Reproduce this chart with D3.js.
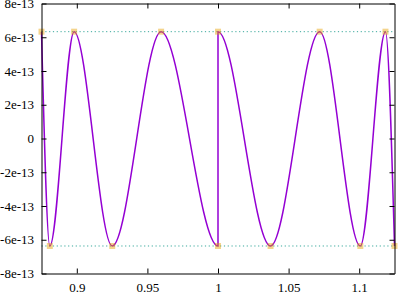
<!DOCTYPE html>
<html>
<head>
<meta charset="utf-8">
<script src="https://cdn.jsdelivr.net/npm/d3@7"></script>
<style>
  body { margin: 0; background: #fff; }
  svg text { font-family: "Liberation Serif", "DejaVu Serif", serif; font-size: 13px; }
</style>
</head>
<body>
<svg width="398" height="300"></svg>
<script>
// tick values / labels
const xTicks = [0.9, 0.95, 1, 1.05, 1.1];
const xTickLabels = ["0.9", "0.95", "1", "1.05", "1.1"];
const yTicks = [-8e-13, -6e-13, -4e-13, -2e-13, 0, 2e-13, 4e-13, 6e-13, 8e-13];
const yTickLabels = ["-8e-13", "-6e-13", "-4e-13", "-2e-13", "0", "2e-13", "4e-13", "6e-13", "8e-13"];

// error curve, read at its extrema (the jump at x = 1 has both ends)
const extremaX = [0.875, 0.8809, 0.8981, 0.9251, 0.9597, 1, 1, 1.0372, 1.0720, 1.1008, 1.1186, 1.125];
const extremaY = [6.33e-13, -6.37e-13, 6.33e-13, -6.37e-13, 6.33e-13, -6.37e-13,
                  6.33e-13, -6.37e-13, 6.33e-13, -6.37e-13, 6.33e-13, -6.37e-13];

// the two dotted bound lines
const boundLevels = [6.33e-13, -6.37e-13];

const svg = d3.select("svg");
const width = +svg.attr("width");
const height = +svg.attr("height");

const mLeft = 41.5, mRight = 394.5, mTop = 3.5, mBottom = 273.5;

const x = d3.scaleLinear().domain([0.875, 1.125]).range([mLeft, mRight]);
const y = d3.scaleLinear().domain([-8e-13, 8e-13]).range([mBottom, mTop]);

svg.append("rect").attr("width", width).attr("height", height).attr("fill", "#fff");

// bound lines
svg.selectAll("line.bound")
  .data(boundLevels)
  .enter().append("line")
    .attr("class", "bound")
    .attr("x1", mLeft)
    .attr("x2", mRight)
    .attr("y1", d => y(d))
    .attr("y2", d => y(d))
    .attr("stroke", "#3aa99c")
    .attr("stroke-width", 1)
    .attr("stroke-dasharray", "1.2,2.6");

const pts = extremaX.map((d, i) => ({ x: d, y: extremaY[i] }));

const line = d3.line()
  .x(d => x(d.x))
  .y(d => y(d.y))
  .curve(d3.curveMonotoneX);

svg.append("path")
  .datum(pts)
  .attr("d", line)
  .attr("fill", "none")
  .attr("stroke", "#9400d3")
  .attr("stroke-width", 1.5);

svg.selectAll("rect.pt")
  .data(pts)
  .enter().append("rect")
    .attr("class", "pt")
    .attr("x", d => x(d.x) - 3)
    .attr("y", d => y(d.y) - 3)
    .attr("width", 6)
    .attr("height", 6)
    .attr("fill", "#e69f00")
    .attr("fill-opacity", 0.45);

// axes: labelled bottom/left, mirror ticks top/right
const styleAxis = g => {
  g.attr("font-family", null).attr("font-size", null);
  g.selectAll("path.domain").attr("stroke", "#000");
  g.selectAll(".tick line").attr("stroke", "#000");
  g.selectAll(".tick text").attr("fill", "#000");
};

svg.append("g")
  .attr("transform", `translate(0,${mBottom})`)
  .call(d3.axisBottom(x).tickValues(xTicks).tickSizeInner(-5).tickSizeOuter(0)
    .tickPadding(9).tickFormat((d, i) => xTickLabels[i]))
  .call(styleAxis);

svg.append("g")
  .attr("transform", `translate(0,${mTop})`)
  .call(d3.axisTop(x).tickValues(xTicks).tickSizeInner(-5).tickSizeOuter(0).tickFormat(""))
  .call(styleAxis);

svg.append("g")
  .attr("transform", `translate(${mLeft},0)`)
  .call(d3.axisLeft(y).tickValues(yTicks).tickSizeInner(-5).tickSizeOuter(0)
    .tickPadding(7.5).tickFormat((d, i) => yTickLabels[i]))
  .call(styleAxis);

svg.append("g")
  .attr("transform", `translate(${mRight},0)`)
  .call(d3.axisRight(y).tickValues(yTicks).tickSizeInner(-5).tickSizeOuter(0).tickFormat(""))
  .call(styleAxis);
</script>
</body>
</html>
